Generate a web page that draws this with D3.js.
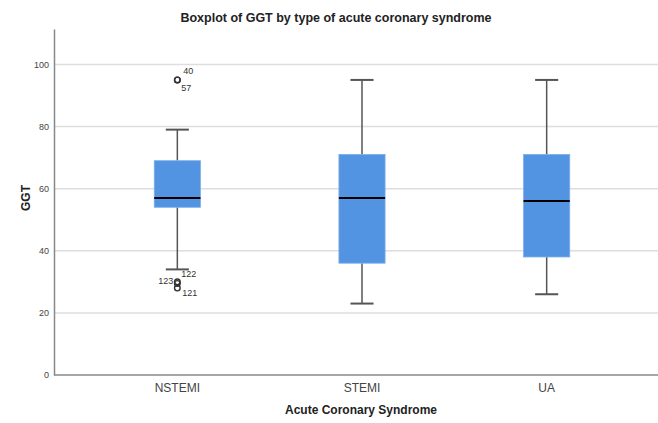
<!DOCTYPE html>
<html><head><meta charset="utf-8">
<script src="https://cdn.jsdelivr.net/npm/d3@7"></script>
<style>body{margin:0;background:#fff}svg{display:block}text{font-family:"Liberation Sans",Arial,sans-serif}</style>
</head><body><svg id="c" width="658" height="423"></svg>
<script>
const categories = ["NSTEMI", "STEMI", "UA"];
const whiskerLow = [34, 23, 26];
const q1 = [54, 36, 38];
const median = [57, 57, 56];
const q3 = [69, 71, 71];
const whiskerHigh = [79, 95, 95];
const outlierGroup = ["NSTEMI", "NSTEMI", "NSTEMI", "NSTEMI", "NSTEMI"];
const outlierValue = [95, 95, 30, 29.5, 28];
const outlierId = ["40", "57", "122", "123", "121"];
const yTicks = [0, 20, 40, 60, 80, 100];

// label placement (layout only)
const labelPlace = {"40": [3, -9, "start"], "57": [1, 8, "start"], "122": [1, -8, "start"], "123": [-7, -3, "end"], "121": [2, 5, "start"]};

const svg = d3.select("#c");
const y = d3.scaleLinear().domain([0, 111.4]).range([375, 29]);
const x = d3.scaleBand().domain(categories).range([85, 639]);
const plotL = 54, plotR = 658;

// gridlines
svg.append("g").selectAll("line").data(yTicks.filter(d => d > 0)).join("line")
  .attr("x1", plotL).attr("x2", plotR)
  .attr("y1", d => y(d)).attr("y2", d => y(d))
  .attr("stroke", "#dedede").attr("stroke-width", 1.5);

// axes
const yAxis = d3.axisLeft(y).tickValues(yTicks).tickSize(0).tickPadding(5);
const gy = svg.append("g").attr("transform", `translate(${plotL},0)`).call(yAxis);
gy.select(".domain").attr("stroke", "#888").attr("stroke-width", 1.5);
gy.selectAll("text").attr("font-size", 9).attr("fill", "#444");

const xAxis = d3.axisBottom(x).tickSize(0).tickPadding(8);
const gx = svg.append("g").attr("transform", `translate(0,${y(0)})`).call(xAxis);
gx.select(".domain").remove();
gx.selectAll("text").attr("font-size", 12).attr("fill", "#444");
svg.append("line").attr("x1", plotL).attr("x2", plotR).attr("y1", y(0)).attr("y2", y(0))
  .attr("stroke", "#888").attr("stroke-width", 1.5);

// boxes
const bw = x.bandwidth() * 0.25;
const cw = bw * 0.5;
categories.forEach((c, i) => {
  const cx = x(c) + x.bandwidth() / 2;
  const g = svg.append("g");
  g.append("line").attr("x1", cx).attr("x2", cx).attr("y1", y(whiskerHigh[i])).attr("y2", y(q3[i]))
    .attr("stroke", "#555").attr("stroke-width", 1.5);
  g.append("line").attr("x1", cx).attr("x2", cx).attr("y1", y(q1[i])).attr("y2", y(whiskerLow[i]))
    .attr("stroke", "#555").attr("stroke-width", 1.5);
  g.append("line").attr("x1", cx - cw / 2).attr("x2", cx + cw / 2).attr("y1", y(whiskerHigh[i])).attr("y2", y(whiskerHigh[i]))
    .attr("stroke", "#555").attr("stroke-width", 2);
  g.append("line").attr("x1", cx - cw / 2).attr("x2", cx + cw / 2).attr("y1", y(whiskerLow[i])).attr("y2", y(whiskerLow[i]))
    .attr("stroke", "#555").attr("stroke-width", 2);
  g.append("rect").attr("x", cx - bw / 2).attr("width", bw)
    .attr("y", y(q3[i])).attr("height", y(q1[i]) - y(q3[i]))
    .attr("fill", "#5294e2").attr("stroke", "#7aaeea").attr("stroke-width", 0.8);
  g.append("line").attr("x1", cx - bw / 2).attr("x2", cx + bw / 2).attr("y1", y(median[i])).attr("y2", y(median[i]))
    .attr("stroke", "#000").attr("stroke-width", 2);
});

// outliers
outlierValue.forEach((v, i) => {
  const cx = x(outlierGroup[i]) + x.bandwidth() / 2;
  const cy = y(v);
  svg.append("circle").attr("cx", cx).attr("cy", cy).attr("r", 2.8)
    .attr("fill", "none").attr("stroke", "#333").attr("stroke-width", 1.4);
  const p = labelPlace[outlierId[i]];
  svg.append("text").attr("x", cx + 3 + p[0]).attr("y", cy + p[1]).attr("dy", "0.35em")
    .attr("text-anchor", p[2]).attr("font-size", 9).attr("fill", "#333").text(outlierId[i]);
});

// titles
svg.append("text").attr("x", 336).attr("y", 22).attr("text-anchor", "middle")
  .attr("font-size", 12.5).attr("font-weight", "bold").attr("fill", "#222")
  .text("Boxplot of GGT by type of acute coronary syndrome");
svg.append("text").attr("x", 361).attr("y", 414).attr("text-anchor", "middle")
  .attr("font-size", 12).attr("font-weight", "bold").attr("fill", "#222")
  .text("Acute Coronary Syndrome");
svg.append("text").attr("transform", "translate(30,198) rotate(-90)").attr("text-anchor", "middle")
  .attr("font-size", 12).attr("font-weight", "bold").attr("fill", "#222").text("GGT");
</script></body></html>
